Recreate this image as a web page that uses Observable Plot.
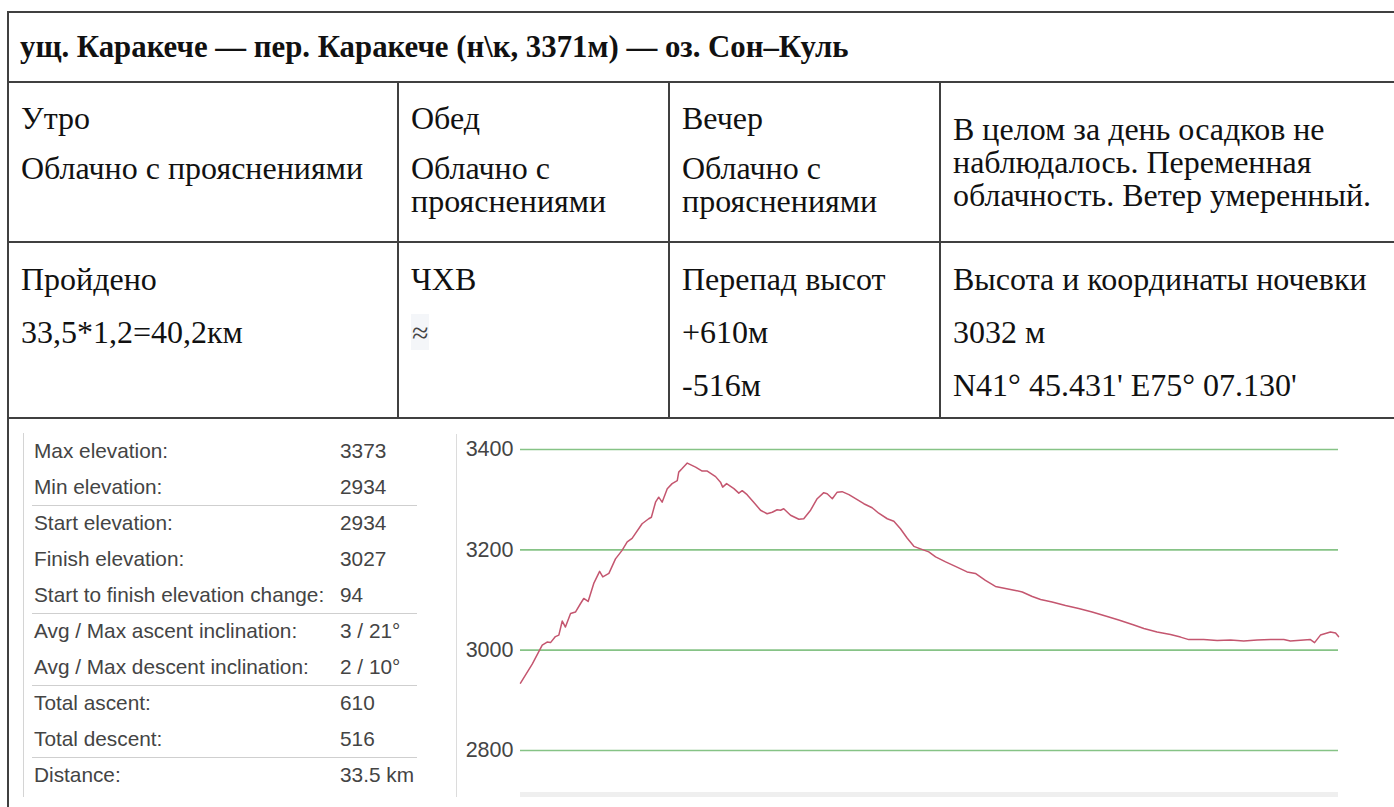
<!DOCTYPE html>
<html>
<head>
<meta charset="utf-8">
<script src="https://cdn.jsdelivr.net/npm/d3@7"></script>
<script src="https://cdn.jsdelivr.net/npm/@observablehq/plot@0.6"></script>
<style>
  html, body { margin: 0; padding: 0; background: #fff; }
  #page { position: relative; width: 1394px; height: 807px; overflow: hidden; background: #fff; }
  #grid { position: absolute; left: 7px; top: 11px; display: grid;
          grid-template-columns: 390px 271px 271px 600px;
          grid-template-rows: 70px 160px 176px 420px;
          font-family: "Liberation Serif", "Times New Roman", serif; font-size: 32px; color: #111; }
  .cell { box-sizing: border-box; border-top: 2px solid #404040; border-left: 2px solid #404040;
          padding-left: 12px; white-space: nowrap; line-height: 33px; }
  .head { grid-column: 1 / 5; display: flex; align-items: center; font-weight: bold; padding-left: 11px; font-size: 30.8px; }
  .r2 { padding-top: 18.5px; }
  .r2 p { margin: 0 0 17px 0; }
  .r3 { padding-top: 19.5px; }
  .r3 p { margin: 0 0 20px 0; }
  .mid { display: flex; flex-direction: column; justify-content: center; padding-top: 0; }
  .mid p { margin: 0; }
  .last { grid-column: 1 / 5; }
  .approx { font-family: "Liberation Serif", serif; font-size: 30px; color: #444; background: #f4f6f9;
            padding: 2px 1px 1px 1px; }
  #stats { position: absolute; left: 23px; top: 433px; width: 400px; height: 364px;
           border-left: 1px solid #d4d4d4; font-family: "Liberation Sans", Arial, sans-serif;
           font-size: 20.8px; color: #444; }
  .srow { position: relative; margin-left: 8px; width: 385px; height: 36px; line-height: 36px; box-sizing: border-box; }
  .srow.sep { border-top: 1px solid #cfcfcf; line-height: 34px; }
  .srow .lab { position: absolute; left: 2px; top: 0; }
  .srow .val { position: absolute; left: 308px; top: 0; }
  #chartline { position: absolute; left: 456px; top: 434px; width: 1px; height: 363px; background: #dcdcdc; }
  #chart { position: absolute; left: 456px; top: 434px; }
  #band { position: absolute; left: 520px; top: 792px; width: 818px; height: 5px; background: #efefef; }
</style>
</head>
<body>
<div id="page">
  <div id="grid">
    <div class="cell head">ущ. Каракече — пер. Каракече (н\к, 3371м) — оз. Сон–Куль</div>

    <div class="cell r2"><p>Утро</p><p>Облачно с прояснениями</p></div>
    <div class="cell r2"><p>Обед</p><p>Облачно с<br>прояснениями</p></div>
    <div class="cell r2"><p>Вечер</p><p>Облачно с<br>прояснениями</p></div>
    <div class="cell r2 mid"><p>В целом за день осадков не<br>наблюдалось. Переменная<br>облачность. Ветер умеренный.</p></div>

    <div class="cell r3"><p>Пройдено</p><p>33,5*1,2=40,2км</p></div>
    <div class="cell r3"><p>ЧХВ</p><p><span class="approx">≈</span></p></div>
    <div class="cell r3"><p>Перепад высот</p><p>+610м</p><p>-516м</p></div>
    <div class="cell r3"><p>Высота и координаты ночевки</p><p>3032 м</p><p>N41° 45.431' E75° 07.130'</p></div>

    <div class="cell last"></div>
  </div>

  <div id="stats"></div>
  <div id="chartline"></div>
  <div id="chart"></div>
  <div id="band"></div>
</div>

<script>
// ---- data ----
const statLabels = ["Max elevation:", "Min elevation:", "Start elevation:", "Finish elevation:",
  "Start to finish elevation change:", "Avg / Max ascent inclination:", "Avg / Max descent inclination:",
  "Total ascent:", "Total descent:", "Distance:"];
const statValues = ["3373", "2934", "2934", "3027", "94", "3 / 21°", "2 / 10°", "610", "516", "33.5 km"];
const statSeparatorsBefore = [2, 5, 7, 9];

const distanceKm = [0, 0.48, 0.89, 1.09, 1.23, 1.43, 1.57, 1.71, 1.84, 2.05, 2.25, 2.46, 2.59, 2.77, 3.00,
  3.24, 3.37, 3.62, 3.89, 4.16, 4.37, 4.57, 4.98, 5.25, 5.36, 5.53, 5.66, 5.80, 6.01, 6.21, 6.42, 6.48,
  6.62, 6.83, 7.17, 7.44, 7.65, 7.99, 8.19, 8.28, 8.44, 8.74, 8.94, 9.08, 9.28, 9.55, 9.83, 10.10, 10.31,
  10.51, 10.65, 10.78, 11.06, 11.40, 11.60, 11.88, 12.15, 12.42, 12.56, 12.77, 12.97, 13.17, 13.45, 13.79,
  14.06, 14.40, 14.67, 15.02, 15.29, 15.56, 15.84, 16.11, 16.38, 16.72, 17.00, 17.41, 17.81, 18.29, 18.63,
  19.04, 19.45, 19.86, 20.27, 20.55, 20.96, 21.30, 21.77, 22.32, 22.86, 23.41, 23.96, 24.50, 25.12, 25.53,
  26.07, 26.62, 27.03, 27.37, 27.98, 28.53, 29.08, 29.62, 30.17, 30.72, 31.26, 31.53, 32.08, 32.35, 32.52,
  32.76, 33.17, 33.38, 33.50];
const elevationM = [2934, 2972, 3010, 3016, 3015, 3027, 3030, 3058, 3046, 3073, 3076, 3093, 3103, 3097, 3133,
  3157, 3146, 3153, 3182, 3199, 3216, 3223, 3252, 3262, 3265, 3295, 3305, 3295, 3322, 3332, 3338, 3355,
  3362, 3373, 3365, 3357, 3357, 3346, 3335, 3325, 3332, 3322, 3313, 3318, 3310, 3295, 3279, 3272, 3275,
  3280, 3279, 3282, 3269, 3261, 3262, 3279, 3302, 3314, 3312, 3302, 3315, 3316, 3310, 3300,
  3292, 3284, 3273, 3262, 3257, 3242, 3223, 3207, 3202, 3196, 3186, 3176, 3167, 3156, 3153,
  3139, 3127, 3123, 3119, 3116, 3107, 3101, 3096, 3089, 3083, 3076, 3068, 3060, 3050, 3043,
  3036, 3031, 3026, 3021, 3021, 3019, 3020, 3018, 3020, 3021, 3021, 3018, 3020, 3021, 3015,
  3030, 3036, 3034, 3027];
const yTicks = [2800, 3000, 3200, 3400];
const distanceTotal = 33.5;

// ---- stats panel ----
const stats = document.getElementById("stats");
statLabels.forEach((lab, i) => {
  const row = document.createElement("div");
  row.className = "srow" + (statSeparatorsBefore.includes(i) ? " sep" : "");
  const l = document.createElement("span"); l.className = "lab"; l.textContent = lab;
  const v = document.createElement("span"); v.className = "val"; v.textContent = statValues[i];
  row.appendChild(l); row.appendChild(v);
  stats.appendChild(row);
});

// ---- chart ----
const profile = distanceKm.map((d, i) => ({km: d, elev: elevationM[i]}));
const chart = Plot.plot({
  width: 938,
  height: 358,
  marginLeft: 64,
  marginRight: 56,
  marginTop: 0,
  marginBottom: 17,
  style: {fontFamily: "Liberation Sans, Arial, sans-serif", fontSize: "21.5px", color: "#444", background: "transparent"},
  x: {domain: [0, distanceTotal], axis: null},
  y: {domain: [2750, 3430], axis: null},
  marks: [
    Plot.ruleY(yTicks, {stroke: "#86c386", strokeWidth: 1.6}),
    Plot.axisY(yTicks, {tickSize: 0, tickPadding: 7, label: null, fill: "#444", tickFormat: d => String(d)}),
    Plot.line(profile, {x: "km", y: "elev", stroke: "#c4566f", strokeWidth: 1.5})
  ]
});
document.getElementById("chart").appendChild(chart);
</script>
</body>
</html>
